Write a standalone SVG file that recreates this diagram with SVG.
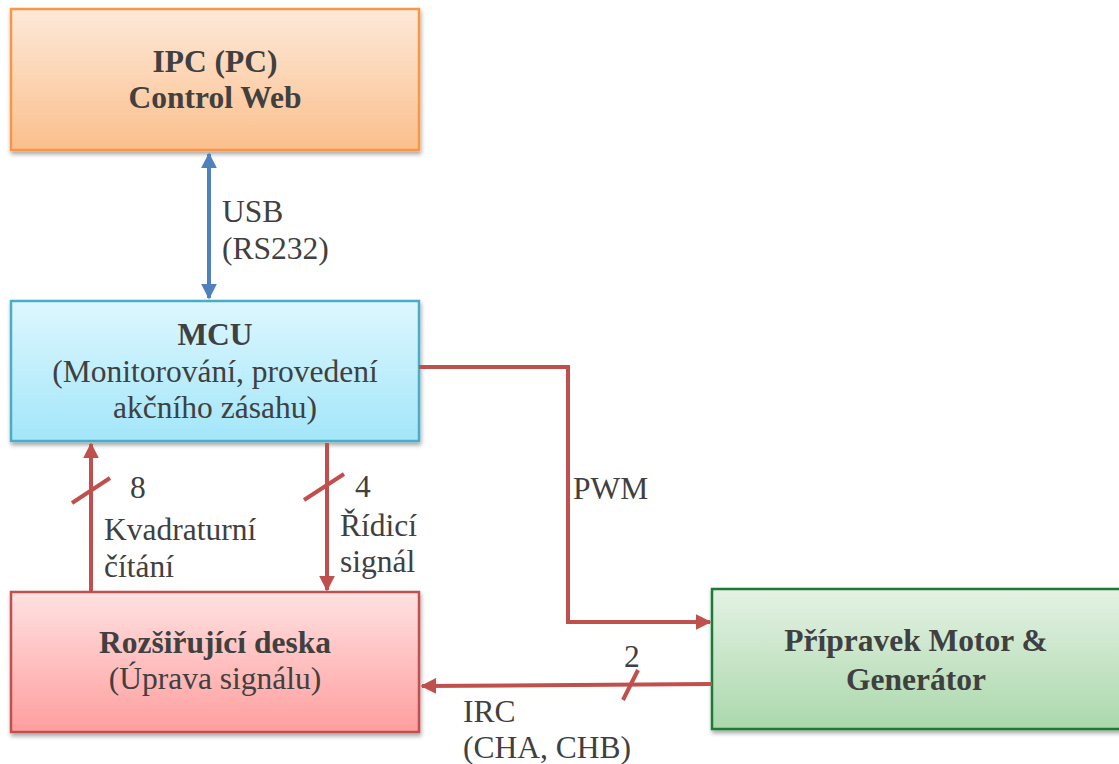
<svg xmlns="http://www.w3.org/2000/svg" width="1119" height="764" viewBox="0 0 1119 764">
<defs>
<linearGradient id="gOrange" x1="0" y1="0" x2="0" y2="1"><stop offset="0" stop-color="#FDE9D9"/><stop offset="1" stop-color="#FBBF8C"/></linearGradient>
<linearGradient id="gBlue" x1="0" y1="0" x2="0" y2="1"><stop offset="0" stop-color="#DDF7FE"/><stop offset="1" stop-color="#A3E6FA"/></linearGradient>
<linearGradient id="gRed" x1="0" y1="0" x2="0" y2="1"><stop offset="0" stop-color="#FFE1E1"/><stop offset="1" stop-color="#FF9E9E"/></linearGradient>
<linearGradient id="gGreen" x1="0" y1="0" x2="0" y2="1"><stop offset="0" stop-color="#E4F2E4"/><stop offset="1" stop-color="#ABD8AC"/></linearGradient>
<filter id="sh" x="-5%" y="-5%" width="110%" height="115%"><feDropShadow dx="1" dy="3" stdDeviation="2" flood-color="#000" flood-opacity="0.35"/></filter>
<marker id="aRed" viewBox="0 0 10 10" refX="9" refY="5" markerWidth="4" markerHeight="4" orient="auto-start-reverse" markerUnits="strokeWidth"><path d="M0,0 L10,5 L0,10 z" fill="#C0504D"/></marker>
<marker id="aBlue" viewBox="0 0 10 10" refX="9" refY="5" markerWidth="4" markerHeight="4" orient="auto-start-reverse" markerUnits="strokeWidth"><path d="M0,0 L10,5 L0,10 z" fill="#4F81BD"/></marker>
</defs>
<style>
text{font-family:'Liberation Serif','Times New Roman',serif;font-size:31.5px;fill:#404040}
.b{font-weight:bold}
.m{text-anchor:middle}
.red{stroke:#C0504D;stroke-width:4;fill:none}
.blue{stroke:#4F81BD;stroke-width:4;fill:none}
</style>
<rect width="1119" height="764" fill="#ffffff"/>

<g id="ipc">
<rect x="11" y="9" width="408" height="141" fill="url(#gOrange)" stroke="#F79646" stroke-width="2.5" filter="url(#sh)"/>
<text class="b m" x="215" y="72">IPC (PC)</text>
<text class="b m" x="215" y="108">Control Web</text>
</g>

<g id="mcu">
<rect x="11" y="301" width="408" height="140" fill="url(#gBlue)" stroke="#4BACC6" stroke-width="2.5" filter="url(#sh)"/>
<text class="b m" x="215" y="345">MCU</text>
<text class="m" x="215" y="382">(Monitorování, provedení</text>
<text class="m" x="215" y="418">akčního zásahu)</text>
</g>

<g id="deska">
<rect x="11" y="592" width="408" height="140" fill="url(#gRed)" stroke="#C0504D" stroke-width="2.5" filter="url(#sh)"/>
<text class="b m" x="215" y="653">Rozšiřující deska</text>
<text class="m" x="215" y="689">(Úprava signálu)</text>
</g>

<g id="motor">
<rect x="712" y="589" width="410" height="140" fill="url(#gGreen)" stroke="#1E7B34" stroke-width="2.5" filter="url(#sh)"/>
<text class="b m" x="916" y="651">Přípravek Motor &amp;</text>
<text class="b m" x="916" y="690">Generátor</text>
</g>

<g id="connectors">
<line class="blue" x1="209" y1="154" x2="209" y2="298" marker-start="url(#aBlue)" marker-end="url(#aBlue)"/>
<line class="red" x1="91" y1="592" x2="91" y2="444" marker-end="url(#aRed)"/>
<line class="red" x1="72" y1="503" x2="110" y2="478"/>
<line class="red" x1="327" y1="443" x2="327" y2="590" marker-end="url(#aRed)"/>
<line class="red" x1="304" y1="500" x2="344" y2="474"/>
<polyline class="red" points="419,367 568,367 568,622 710,622" marker-end="url(#aRed)"/>
<line class="red" x1="712" y1="684" x2="422" y2="686" marker-end="url(#aRed)"/>
<line class="red" x1="623" y1="700" x2="638" y2="670"/>
</g>

<g id="labels">
<text x="222" y="222">USB</text>
<text x="222" y="259">(RS232)</text>
<text x="130" y="498">8</text>
<text x="104" y="540">Kvadraturní</text>
<text x="104" y="577">čítání</text>
<text x="355" y="497">4</text>
<text x="340" y="536">Řídicí</text>
<text x="340" y="572">signál</text>
<text x="573" y="499">PWM</text>
<text x="624" y="667">2</text>
<text x="463" y="722">IRC</text>
<text x="463" y="758">(CHA, CHB)</text>
</g>
</svg>
